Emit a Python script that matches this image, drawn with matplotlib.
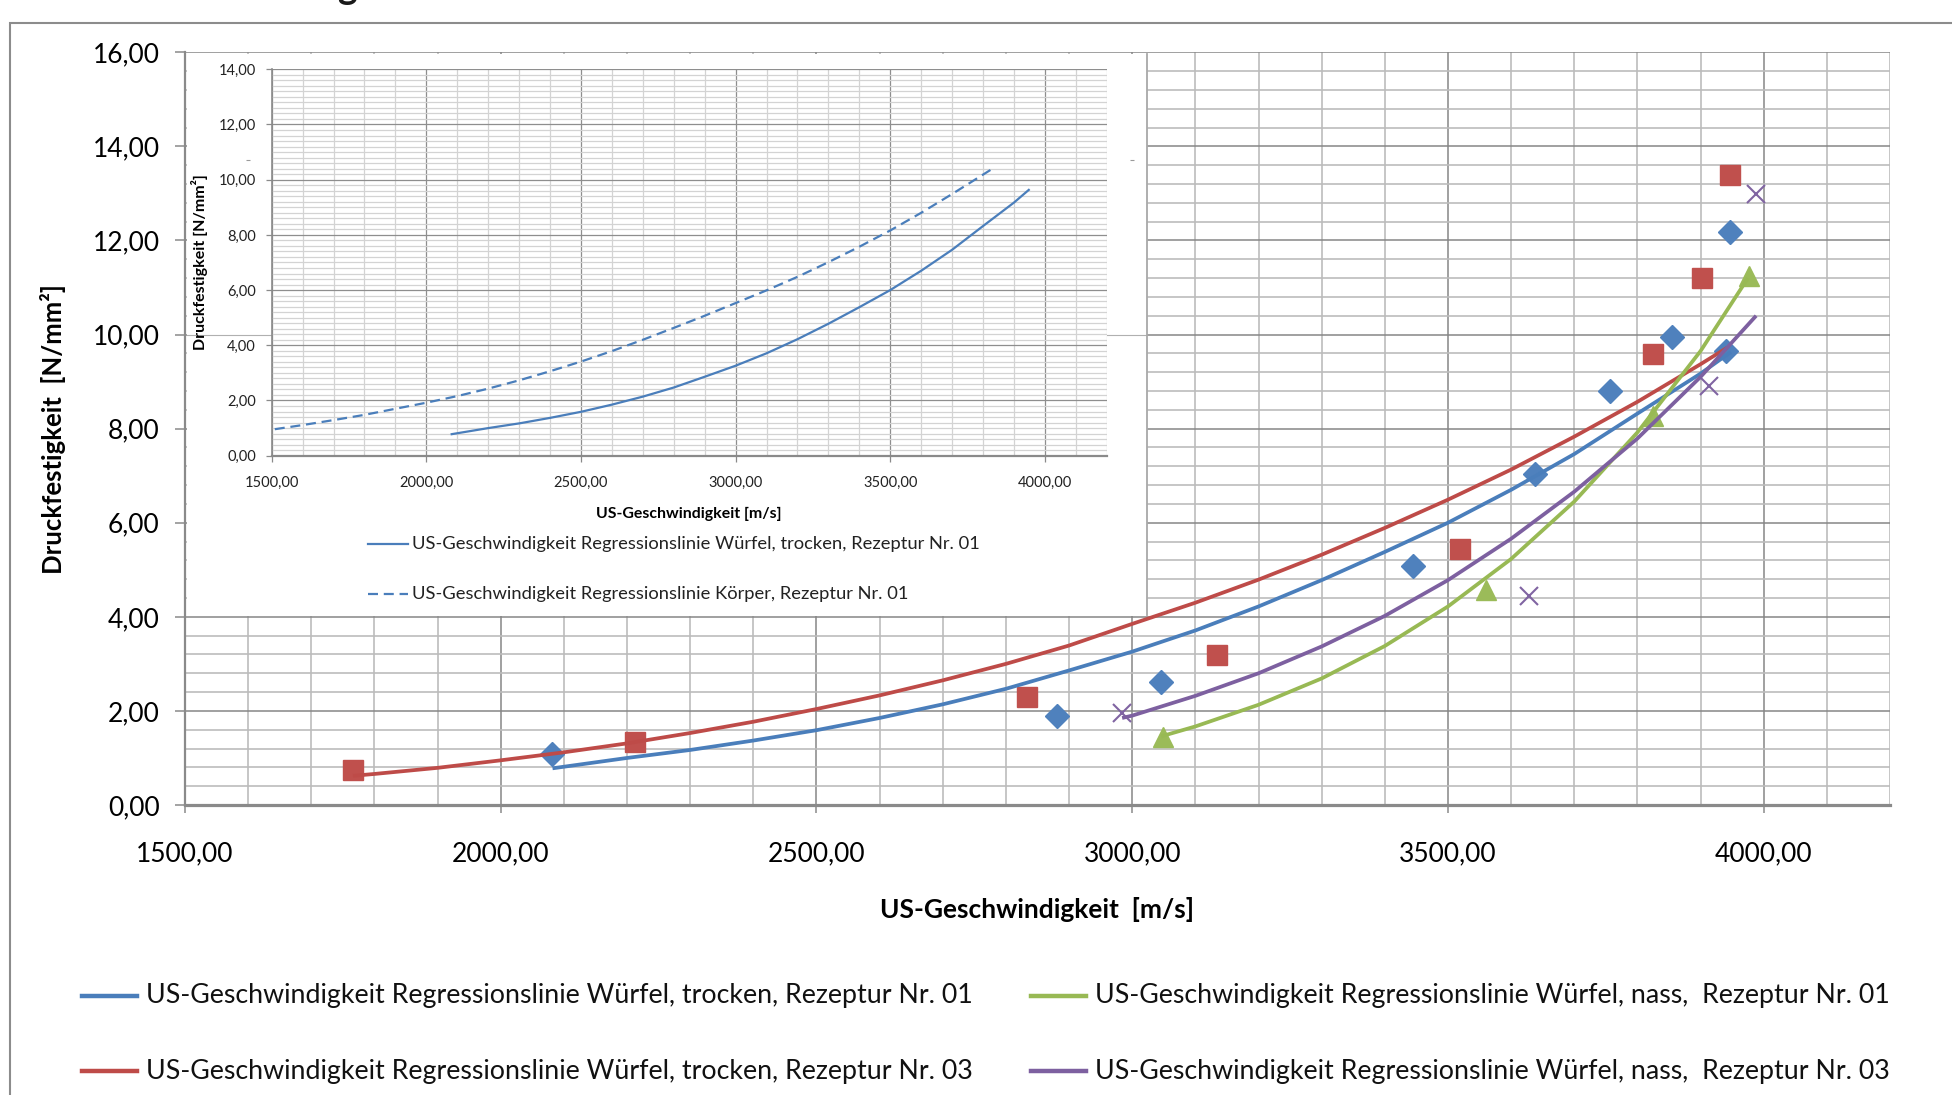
import matplotlib
matplotlib.use("Agg")
import matplotlib.pyplot as plt
import matplotlib.transforms as mtransforms
from matplotlib.lines import Line2D
from matplotlib.patches import Rectangle
from matplotlib.ticker import MultipleLocator, FuncFormatter

plt.rcParams["font.family"] = ["Lato", "DejaVu Sans"]

# ---------------------------------------------------------------- data
# measured ultrasonic velocity [m/s] and compressive strength [N/mm²]
dry01_v = [2081, 2881, 3046, 3445, 3638, 3757, 3854, 3940, 3946]
dry01_f = [1.09, 1.90, 2.61, 5.08, 7.03, 8.81, 9.95, 9.65, 12.18]
dry03_v = [1766, 2213, 2834, 3135, 3519, 3824, 3903, 3946]
dry03_f = [0.74, 1.33, 2.30, 3.18, 5.44, 9.58, 11.20, 13.40]
wet01_v = [3048, 3561, 3824, 3977]
wet01_f = [1.45, 4.58, 8.27, 11.24]
wet03_v = [2984, 3628, 3913, 3988]
wet03_f = [1.95, 4.44, 8.91, 12.99]

# regression lines
reg_dry01_v = [2082, 2200, 2300, 2400, 2500, 2600, 2700, 2800, 2900, 3000,
               3100, 3200, 3300, 3400, 3500, 3600, 3700, 3800, 3900, 3948]
reg_dry01_f = [0.78, 1.00, 1.17, 1.37, 1.59, 1.85, 2.14, 2.47, 2.86, 3.26,
               3.71, 4.22, 4.78, 5.38, 6.00, 6.70, 7.46, 8.32, 9.17, 9.63]
reg_dry03_v = [1766, 1800, 1900, 2000, 2100, 2200, 2300, 2400, 2500, 2600,
               2700, 2800, 2900, 3000, 3100, 3200, 3300, 3400, 3500, 3600,
               3700, 3800, 3900, 3942]
reg_dry03_f = [0.62, 0.66, 0.79, 0.95, 1.12, 1.31, 1.53, 1.77, 2.04, 2.33,
               2.65, 3.00, 3.39, 3.85, 4.30, 4.79, 5.32, 5.89, 6.49, 7.13,
               7.83, 8.57, 9.37, 9.72]
reg_wet01_v = [3046, 3100, 3200, 3300, 3400, 3500, 3600, 3700, 3800, 3900, 3975]
reg_wet01_f = [1.46, 1.67, 2.13, 2.69, 3.38, 4.22, 5.23, 6.45, 7.92, 9.65, 11.20]
reg_wet03_v = [2984, 3000, 3100, 3200, 3300, 3400, 3500, 3600, 3700, 3800, 3900, 3988]
reg_wet03_f = [1.85, 1.90, 2.32, 2.80, 3.37, 4.02, 4.78, 5.66, 6.66, 7.79, 9.10, 10.40]
reg_body01_v = [1510, 1600, 1700, 1800, 1900, 2000, 2100, 2200, 2300, 2400,
                2500, 2600, 2700, 2800, 2900, 3000, 3100, 3200, 3300, 3400,
                3500, 3600, 3700, 3828]
reg_body01_f = [0.96, 1.11, 1.29, 1.48, 1.70, 1.92, 2.16, 2.43, 2.73, 3.06,
                3.41, 3.79, 4.20, 4.63, 5.07, 5.53, 5.99, 6.48, 7.01, 7.57,
                8.16, 8.80, 9.48, 10.38]

lbl_dry01 = "US-Geschwindigkeit Regressionslinie Würfel, trocken, Rezeptur Nr. 01"
lbl_dry03 = "US-Geschwindigkeit Regressionslinie Würfel, trocken, Rezeptur Nr. 03"
lbl_wet01 = "US-Geschwindigkeit Regressionslinie Würfel, nass,  Rezeptur Nr. 01"
lbl_wet03 = "US-Geschwindigkeit Regressionslinie Würfel, nass,  Rezeptur Nr. 03"
lbl_body01 = "US-Geschwindigkeit Regressionslinie Körper, Rezeptur Nr. 01"
x_title = "US-Geschwindigkeit  [m/s]"
y_title = "Druckfestigkeit  [N/mm²]"

# ---------------------------------------------------------------- style
C_BLUE, C_BLUE_M = "#4A7EBB", "#4F81BD"
C_RED, C_RED_M = "#BE4B48", "#C0504D"
C_GREEN, C_GREEN_M = "#98B954", "#9BBB59"
C_PURPLE, C_PURPLE_M = "#7D60A0", "#8064A2"
GRID_MAJ, GRID_MIN, AXIS_C = "#868686", "#bcbcbc", "#8a8a8a"

W, H, DPI = 1952, 1095, 100


def box(x0, y0, x1, y1):
    """pixel box (top-left origin) -> figure rectangle"""
    return [x0 / W, 1 - y1 / H, (x1 - x0) / W, (y1 - y0) / H]


comma = FuncFormatter(lambda v, p: f"{v:.2f}".replace(".", ","))

fig = plt.figure(figsize=(W / DPI, H / DPI), dpi=DPI)
fig.patch.set_facecolor("white")

# chart frame (runs off the right and bottom edge)
fig.add_artist(Rectangle((10 / W, -0.3), 1.5, 1.3 - 23 / H, transform=fig.transFigure,
                         fill=False, edgecolor="#8c8c8c", lw=1.5, zorder=0))
# chart title, clipped at the top edge
fig.text(347 / W, 1 + 1.0 / H, "g", ha="center", va="baseline",
         fontsize=27, fontweight="bold", color="#1a1a1a")

# ---------------------------------------------------------------- main chart
ax = fig.add_axes(box(185, 52.3, 1890, 805), zorder=0)
ax.set_xlim(1500, 4200)
ax.set_ylim(0, 16)
ax.xaxis.set_major_locator(MultipleLocator(500))
ax.xaxis.set_minor_locator(MultipleLocator(100))
ax.yaxis.set_major_locator(MultipleLocator(2))
ax.yaxis.set_minor_locator(MultipleLocator(0.4))
ax.xaxis.set_major_formatter(comma)
ax.yaxis.set_major_formatter(comma)
ax.set_axisbelow(True)
ax.grid(which="major", color=GRID_MAJ, lw=1.1)
ax.grid(which="minor", color=GRID_MIN, lw=1.2)
ax.tick_params(which="minor", length=0)
ax.tick_params(axis="y", which="major", direction="out", length=7.2, width=1.1,
               color=AXIS_C, labelsize=19, pad=11)
ax.tick_params(axis="x", which="major", direction="out", length=6, width=1.1,
               color=AXIS_C, labelsize=19, pad=20)
for s in ("top", "right"):
    ax.spines[s].set_visible(False)
ax.spines["left"].set_color(AXIS_C)
ax.spines["left"].set_linewidth(1.6)
ax.spines["bottom"].set_color(AXIS_C)
ax.spines["bottom"].set_linewidth(2.3)

ax.set_xlabel(x_title, fontsize=19, fontweight="bold", va="center")
ax.xaxis.set_label_coords(0.5, 1 - (909 - 52.3) / 752.7)
ax.set_ylabel(y_title, fontsize=18.5, fontweight="bold", va="center", ha="center")
ax.yaxis.set_label_coords((53 - 185) / 1705, 0.5)

# measured values
ax.plot(dry01_v, dry01_f, ls="none", marker="D", ms=12, color=C_BLUE_M, zorder=3)
ax.plot(dry03_v, dry03_f, ls="none", marker="s", ms=14.5, color=C_RED_M, zorder=3)
ax.plot(wet01_v, wet01_f, ls="none", marker="^", ms=15, color=C_GREEN_M, zorder=3)
ax.plot(wet03_v, wet03_f, ls="none", marker="x", ms=13, mew=1.5, color=C_PURPLE_M, zorder=3)

# regression lines
for v, f, col in [(reg_dry01_v, reg_dry01_f, C_BLUE), (reg_dry03_v, reg_dry03_f, C_RED),
                  (reg_wet01_v, reg_wet01_f, C_GREEN), (reg_wet03_v, reg_wet03_f, C_PURPLE)]:
    ax.plot(v, f, color=col, lw=2.7, zorder=4, solid_capstyle="butt",
            solid_joinstyle="round")

# legend below the chart
legend_rows = [(996, [(82, C_BLUE, lbl_dry01), (1031, C_GREEN, lbl_wet01)]),
               (1071, [(82, C_RED, lbl_dry03), (1031, C_PURPLE, lbl_wet03)])]
for ypx, entries in legend_rows:
    for xpx, col, txt in entries:
        fig.add_artist(Line2D([xpx / W, (xpx + 55) / W], [1 - ypx / H] * 2,
                              transform=fig.transFigure, color=col, lw=3.2))
        fig.text((xpx + 64) / W, 1 - ypx / H, txt, fontsize=19.3,
                 ha="left", va="center", color="#111111")

# ---------------------------------------------------------------- embedded chart
ax_img = fig.add_axes(box(187, 53.8, 1147, 615.5), zorder=1)
ax_img.set_facecolor("white")
ax_img.set_xticks([])
ax_img.set_yticks([])
for s in ("top", "left", "bottom"):
    ax_img.spines[s].set_visible(False)
ax_img.spines["right"].set_color("#a8a8a8")
ax_img.spines["right"].set_linewidth(1.3)
# faint remnants of the underlying grid
ax_img.axhline(1 - (258 - 53.8) / 561.7, color="#b0b0b0", lw=0.8)
blend = mtransforms.blended_transform_factory(ax.transData, ax_img.transAxes)
ax_img.plot(list(range(1600, 3100, 100)), [1 - (160 - 53.8) / 561.7] * 15,
            transform=blend, ls="none", marker="_", ms=3, mew=0.8, color="#9a9a9a")

ax2 = fig.add_axes(box(271.7, 69.3, 1106.7, 455.7), zorder=2)
ax2.set_facecolor("white")
ax2.set_xlim(1500, 4200)
ax2.set_ylim(0, 14)
ax2.xaxis.set_major_locator(MultipleLocator(500))
ax2.xaxis.set_minor_locator(MultipleLocator(100))
ax2.yaxis.set_major_locator(MultipleLocator(2))
ax2.yaxis.set_minor_locator(MultipleLocator(0.2))
ax2.xaxis.set_major_formatter(comma)
ax2.yaxis.set_major_formatter(comma)
ax2.set_axisbelow(True)
ax2.grid(which="major", color="#8e8e8e", lw=0.9)
ax2.grid(which="minor", color="#d3d3d3", lw=0.9)
ax2.tick_params(which="minor", length=0)
ax2.tick_params(which="major", direction="out", length=4.3, width=0.9,
                color=AXIS_C, labelsize=10.5, labelcolor="#222222")
ax2.tick_params(axis="y", pad=7)
ax2.tick_params(axis="x", pad=10)
for s in ("top", "right"):
    ax2.spines[s].set_visible(False)
ax2.spines["left"].set_color(AXIS_C)
ax2.spines["left"].set_linewidth(1.2)
ax2.spines["bottom"].set_color(AXIS_C)
ax2.spines["bottom"].set_linewidth(1.6)
ax2.set_xlabel("US-Geschwindigkeit [m/s]", fontsize=11.4, fontweight="bold", va="center")
ax2.xaxis.set_label_coords(0.5, 1 - (514 - 69.3) / 386.4)
ax2.set_ylabel("Druckfestigkeit [N/mm²]", fontsize=11.5, fontweight="bold",
               va="center", ha="center")
ax2.yaxis.set_label_coords((200 - 271.7) / 835, 0.5)

ax2.plot(reg_dry01_v, reg_dry01_f, color=C_BLUE, lw=1.6)
ax2.plot(reg_body01_v, reg_body01_f, color=C_BLUE, lw=1.6, ls=(0, (4.5, 2.6)))

for ypx, style, txt in [(544, "-", lbl_dry01), (594, (0, (4.5, 2.6)), lbl_body01)]:
    fig.add_artist(Line2D([368 / W, 408 / W], [1 - ypx / H] * 2, transform=fig.transFigure,
                          color=C_BLUE, lw=1.6, ls=style, zorder=5))
    fig.text(412 / W, 1 - ypx / H, txt, fontsize=13.2, ha="left", va="center",
             color="#222222", zorder=5)

fig.savefig("out.png", dpi=DPI, facecolor="white")
